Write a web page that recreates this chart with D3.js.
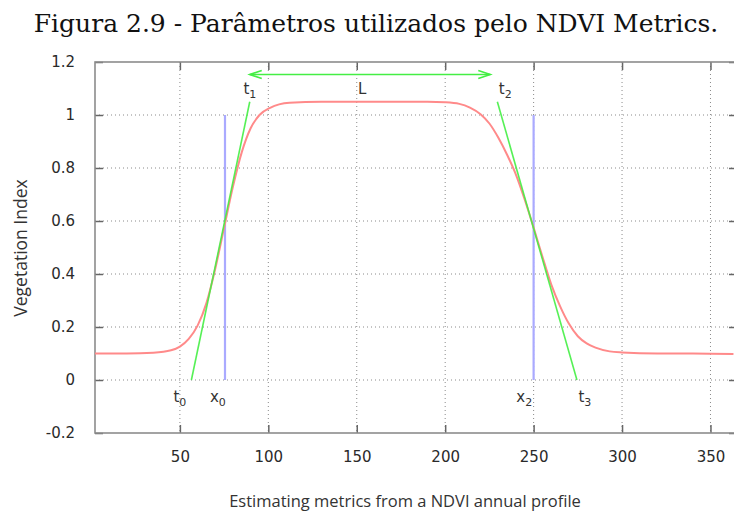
<!DOCTYPE html>
<html lang="en">
<head>
<meta charset="utf-8">
<script src="https://cdn.jsdelivr.net/npm/d3@7"></script>
<style>
  body { margin: 0; background: #fff; }
</style>
</head>
<body>
<script>
    var w = 734;
    var h = 514;

    // NDVI profile (day of year, index value)
    var days = [2, 20, 35, 45, 50, 55, 60, 65, 70, 75, 80, 85, 90, 95, 101, 112, 130, 150, 170, 190,
                200, 208, 214, 220, 225, 230, 235, 240, 245, 250, 255, 260, 265, 270, 275, 280, 285, 293, 300, 320, 340, 363];
    var ndvi = [0.100, 0.100, 0.103, 0.112, 0.126, 0.155, 0.205, 0.29, 0.42, 0.575, 0.73, 0.86, 0.95, 1.00, 1.027, 1.046, 1.05, 1.05, 1.05, 1.05,
                1.048, 1.042, 1.028, 1.003, 0.968, 0.915, 0.85, 0.775, 0.68, 0.575, 0.465, 0.36, 0.278, 0.212, 0.165, 0.138, 0.122, 0.108, 0.104, 0.10, 0.10, 0.098];

    var xTicks = [50, 100, 150, 200, 250, 300, 350];
    var yTicks = [-0.2, 0, 0.2, 0.4, 0.6, 0.8, 1, 1.2];

    // tangent lines (green)
    var riseDays = [56.5, 89.5];
    var riseVals = [0, 1.05];
    var fallDays = [229.5, 274.5];
    var fallVals = [1.05, 0];

    // inflection markers (blue)
    var markDays = [75.5, 250];
    var markVals = [0, 1];

    // season length arrow
    var lengthDays = [89.5, 225.5];
    var lengthVal = 1.153;

    // point labels
    var labelBase = ["t", "x", "x", "t", "t", "L", "t"];
    var labelSub = ["0", "0", "2", "3", "1", "", "2"];
    var labelDays = [50, 71.5, 244.7, 279, 89.6, 153, 234];
    var labelVals = [-0.083, -0.083, -0.083, -0.083, 1.078, 1.078, 1.078];

    // plot box (window.top is read-only, so no bare "top")
    var pL = 95, pR = 737, pT = 62, pB = 433;

    var x = d3.scaleLinear().domain([2, 365]).range([pL, pR]);
    var y = d3.scaleLinear().domain([-0.2, 1.2]).range([pB, pT]);

    var svg = d3.select("body").append("svg")
        .attr("width", w)
        .attr("height", h)
        .style("font-family", "'DejaVu Sans', sans-serif");

    // title
    svg.append("text")
        .attr("x", 376)
        .attr("y", 32)
        .attr("text-anchor", "middle")
        .style("font-family", "'DejaVu Serif', serif")
        .style("font-size", "25px")
        .style("fill", "#111")
        .text("Figura 2.9 - Parâmetros utilizados pelo NDVI Metrics.");

    // grid
    var grid = svg.append("g").attr("stroke", "#8a8a8a").attr("stroke-width", 1)
        .attr("stroke-dasharray", "1,3");
    grid.selectAll(".gx").data(xTicks).enter().append("line")
        .attr("x1", d => x(d)).attr("x2", d => x(d))
        .attr("y1", pT).attr("y2", pB);
    grid.selectAll(".gy").data(yTicks.slice(1, -1)).enter().append("line")
        .attr("x1", pL).attr("x2", pR)
        .attr("y1", d => y(d)).attr("y2", d => y(d));

    // ticks on all four sides, pointing inwards
    var fmt = d => d3.format("~g")(d).replace("−", "-");
    var axB = d3.axisBottom(x).tickValues(xTicks).tickSizeInner(-8).tickSizeOuter(0).tickPadding(18);
    var axT = d3.axisTop(x).tickValues(xTicks).tickSizeInner(-8).tickSizeOuter(0).tickFormat("");
    var axL = d3.axisLeft(y).tickValues(yTicks).tickSizeInner(-8).tickSizeOuter(0).tickPadding(20)
        .tickFormat(fmt);
    var axR = d3.axisRight(y).tickValues(yTicks).tickSizeInner(-8).tickSizeOuter(0).tickFormat("");

    var gB = svg.append("g").attr("transform", "translate(0," + pB + ")").call(axB);
    var gT = svg.append("g").attr("transform", "translate(0," + pT + ")").call(axT);
    var gL = svg.append("g").attr("transform", "translate(" + pL + ",0)").call(axL);
    var gR = svg.append("g").attr("transform", "translate(" + pR + ",0)").call(axR);
    [gB, gT, gL, gR].forEach(function (g) {
        g.select(".domain").remove();
        g.selectAll(".tick line").attr("stroke", "#666").attr("stroke-width", 1.5);
        g.selectAll(".tick text").style("font-size", "15px").style("fill", "#2a2a2a")
            .style("font-family", "'DejaVu Sans', sans-serif");
    });

    // frame
    svg.append("rect")
        .attr("x", pL).attr("y", pT)
        .attr("width", pR - pL).attr("height", pB - pT)
        .attr("fill", "none").attr("stroke", "#8c8c8c").attr("stroke-width", 1.6);

    // blue markers
    svg.selectAll(".mark").data(markDays).enter().append("line")
        .attr("x1", d => x(d)).attr("x2", d => x(d))
        .attr("y1", y(markVals[0])).attr("y2", y(markVals[1]))
        .attr("stroke", "#aaaaff").attr("stroke-width", 2.2);

    // red profile
    var line = d3.line().curve(d3.curveMonotoneX)
        .x(d => x(d[0])).y(d => y(d[1]));
    svg.append("path")
        .datum(d3.zip(days, ndvi))
        .attr("d", line)
        .attr("fill", "none").attr("stroke", "#ff8a8a").attr("stroke-width", 2);

    // green tangents
    [[riseDays, riseVals], [fallDays, fallVals]].forEach(function (t) {
        svg.append("path")
            .datum(d3.zip(t[0], t[1]))
            .attr("d", d3.line().x(d => x(d[0])).y(d => y(d[1])))
            .attr("fill", "none").attr("stroke", "#44ee44").attr("stroke-width", 1.6)
            .attr("stroke-opacity", 0.9);
    });

    // L arrow
    var ay = y(lengthVal);
    var ax0 = x(lengthDays[0]), ax1 = x(lengthDays[1]);
    var arrow = svg.append("g").attr("stroke", "#44ee44").attr("stroke-width", 1.6).attr("fill", "none");
    arrow.append("line").attr("x1", ax0).attr("x2", ax1).attr("y1", ay).attr("y2", ay);
    arrow.append("path").attr("d", "M" + (ax0 + 12) + "," + (ay - 4) + "L" + ax0 + "," + ay + "L" + (ax0 + 12) + "," + (ay + 4));
    arrow.append("path").attr("d", "M" + (ax1 - 12) + "," + (ay - 4) + "L" + ax1 + "," + ay + "L" + (ax1 - 12) + "," + (ay + 4));

    // labels with subscripts
    labelBase.forEach(function (b, i) {
        var t = svg.append("text")
            .attr("x", x(labelDays[i]))
            .attr("y", y(labelVals[i]))
            .attr("text-anchor", "middle")
            .style("font-size", "15px")
            .style("fill", "#333");
        t.append("tspan").text(b);
        if (labelSub[i]) {
            t.append("tspan").attr("dy", 4).style("font-size", "11px").text(labelSub[i]);
        }
    });

    // axis titles
    svg.append("text")
        .attr("transform", "translate(27,248) rotate(-90)")
        .attr("text-anchor", "middle")
        .style("font-family", "'Open Sans', sans-serif")
        .style("font-size", "17.5px")
        .style("fill", "#333")
        .text("Vegetation Index");

    svg.append("text")
        .attr("x", 405)
        .attr("y", 507)
        .attr("text-anchor", "middle")
        .style("font-family", "'Open Sans', sans-serif")
        .style("font-size", "16.5px")
        .style("fill", "#333")
        .text("Estimating metrics from a NDVI annual profile");
</script>
</body>
</html>
